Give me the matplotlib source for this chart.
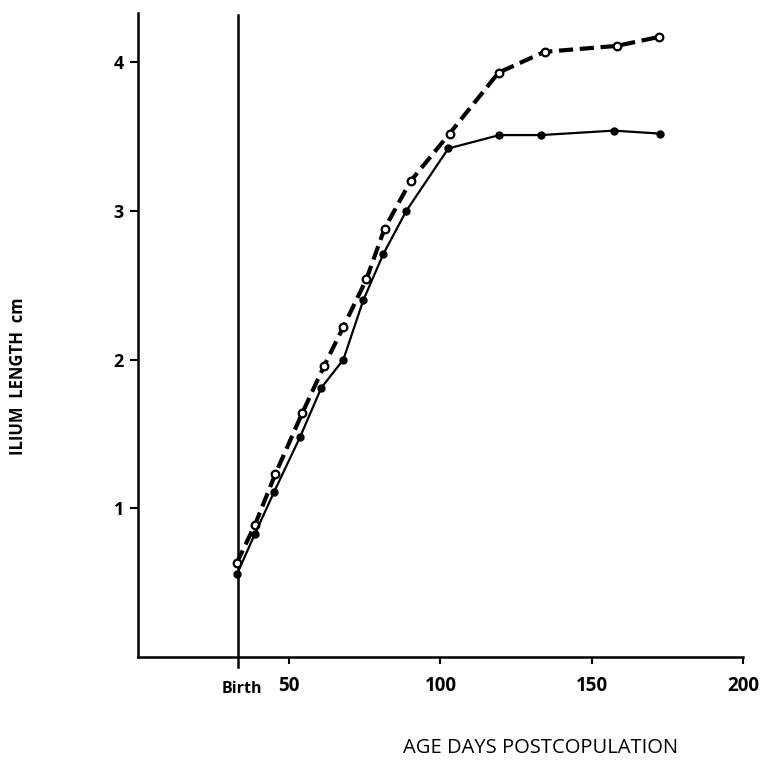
import matplotlib
matplotlib.use("Agg")
import matplotlib.pyplot as plt

# Data
birth_day = 33
days_solid = [32.8, 38.7, 45.0, 53.6, 60.6, 67.9, 74.5, 81.1, 88.7, 102.6, 119.5, 133.1, 157.3, 172.5]
len_solid = [0.56, 0.83, 1.11, 1.48, 1.81, 2.00, 2.40, 2.71, 3.00, 3.42, 3.51, 3.51, 3.54, 3.52]
days_open = [32.6, 38.7, 45.4, 54.3, 61.6, 67.9, 75.5, 81.5, 90.1, 103.0, 119.2, 134.4, 158.3, 172.2]
len_open = [0.63, 0.89, 1.23, 1.64, 1.96, 2.22, 2.54, 2.88, 3.20, 3.52, 3.93, 4.07, 4.11, 4.17]
xticks = [birth_day, 50, 100, 150, 200]
xtick_labels = ["Birth", "50", "100", "150", "200"]
yticks = [1, 2, 3, 4]
ytick_labels = ["1", "2", "3", "4"]

plt.rcParams['font.family'] = ['Open Sans', 'DejaVu Sans']

fig = plt.figure(figsize=(7.61, 7.61), dpi=100)
ax = fig.add_axes([0.1813, 0.1367, 0.795, 0.846])

ax.set_xlim(0, 200)
ax.set_ylim(0, 4.33)

# birth line
ax.plot([birth_day, birth_day], [-0.07, 4.32], color='black', lw=1.8, clip_on=False, zorder=2)

ax.plot(days_open, len_open, color='black', lw=3.0, ls=(0, (3.4, 1.6)),
        marker='o', markersize=5.5, markerfacecolor='white', markeredgecolor='black',
        markeredgewidth=1.6, zorder=3)
ax.plot(days_solid, len_solid, color='black', lw=1.6, ls='-',
        marker='o', markersize=5, markerfacecolor='black', markeredgecolor='black', zorder=4)

for s in ['top', 'right']:
    ax.spines[s].set_visible(False)
for s in ['left', 'bottom']:
    ax.spines[s].set_linewidth(1.8)

ax.set_xticks(xticks[1:])
ax.set_xticklabels(xtick_labels[1:], fontsize=13.5, fontweight='bold')
ax.text(birth_day + 1.5, -0.16, xtick_labels[0], ha='center', va='top', fontsize=11.5,
        fontweight='bold', transform=ax.transData)
ax.set_yticks(yticks)
ax.set_yticklabels(ytick_labels, fontsize=13, fontweight='bold')
ax.tick_params(axis='x', direction='out', length=5, width=1.5, pad=9)
ax.tick_params(axis='y', direction='out', length=6, width=1.5, pad=4)

fig.text(0.71, 0.017, "AGE DAYS POSTCOPULATION", ha='center', va='center', fontsize=14.5)
fig.text(0.024, 0.506, "ILIUM  LENGTH  cm", ha='center', va='center', rotation=90,
         fontsize=12, fontweight='bold')

fig.savefig("out.png", dpi=100)
